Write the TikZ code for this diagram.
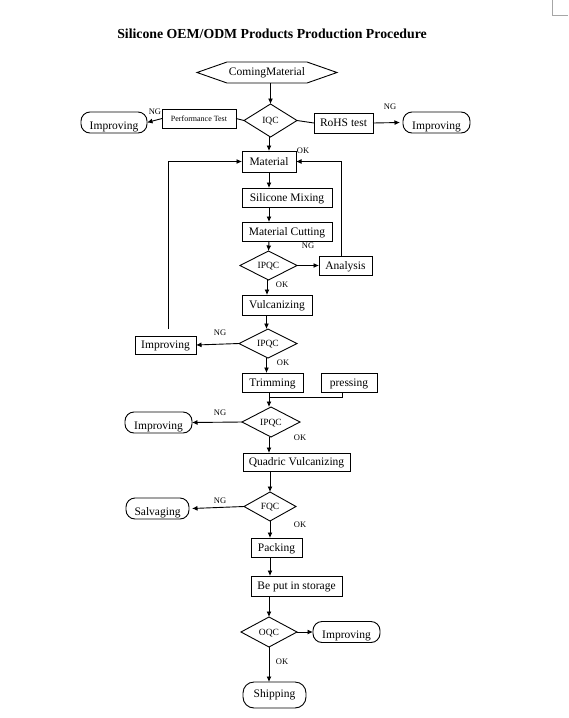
\documentclass[tikz,border=0pt]{standalone}
\usepackage{fontspec}
\setmainfont{Liberation Serif}
\usetikzlibrary{shapes.geometric,arrows.meta}
\begin{document}
\begin{tikzpicture}[x=1pt,y=-1pt,
  every node/.style={inner sep=0pt,outer sep=0pt},
  base/.style={font=\fontsize{11.5}{12}\selectfont},
  box/.style={base,draw,line width=0.9pt,rectangle,text height=8pt,text depth=1pt},
  rbox/.style={base,draw,line width=0.9pt,rounded corners=9pt,text height=13.5pt,text depth=0pt},
  dia/.style={draw,line width=0.9pt,diamond,font=\fontsize{9.5}{10}\selectfont,text height=6pt,text depth=-2pt},
  lbl/.style={font=\fontsize{8.5}{9}\selectfont},
  conn/.style={line width=0.9pt},
  arr/.style={line width=0.9pt,-{Latex[length=5.5pt,width=5pt]}}]
\useasboundingbox (0,0) rectangle (568,718);
\fill[white] (0,0) rectangle (568,718);
% corner mark
\draw[gray!70,line width=0.8pt] (552,0) -- (552,15) -- (568,15);
% title
\node[font=\bfseries\fontsize{13.8}{15}\selectfont] (title) at (272,34) {Silicone OEM/ODM Products Production Procedure};
% nodes
\node[base,minimum width=140pt,minimum height=21pt] (coming) at (267,72.5) {ComingMaterial};
\draw[line width=0.9pt] (coming.west) -- ([xshift=30pt]coming.north west) -- ([xshift=-30pt]coming.north east) -- (coming.east) -- ([xshift=-30pt]coming.south east) -- ([xshift=30pt]coming.south west) -- cycle;
\node[dia,minimum width=53pt,minimum height=33pt] (iqc) at (270.5,120.5) {IQC};
\node[draw,line width=0.9pt,font=\fontsize{8}{9}\selectfont,minimum width=74pt,minimum height=19pt] (perf) at (199,118.5) {Performance Test};
\node[rbox,minimum width=66pt,minimum height=21pt] (imp1) at (114,122.5) {Improving};
\node[box,minimum width=59pt,minimum height=20pt] (rohs) at (343.5,123) {RoHS test};
\node[rbox,minimum width=67pt,minimum height=21pt] (imp2) at (436.5,122.5) {Improving};
\node[box,minimum width=54pt,minimum height=21pt] (mat) at (269,161.5) {Material};
\node[box,minimum width=90pt,minimum height=19pt] (mix) at (287,197.5) {Silicone Mixing};
\node[box,minimum width=90pt,minimum height=19pt] (cut) at (287,231.5) {Material Cutting};
\node[dia,minimum width=57pt,minimum height=29pt] (ipqc1) at (268.5,265.5) {IPQC};
\node[box,minimum width=53pt,minimum height=19pt] (anal) at (345.5,265.5) {Analysis};
\node[box,minimum width=70pt,minimum height=20pt] (vulc) at (277,305) {Vulcanizing};
\node[dia,minimum width=58pt,minimum height=29pt] (ipqc2) at (268,343.5) {IPQC};
\node[box,minimum width=61pt,minimum height=18pt] (imp3) at (165.5,345) {Improving};
\node[box,minimum width=61pt,minimum height=19pt] (trim) at (272.5,382.5) {Trimming};
\node[box,minimum width=56pt,minimum height=19pt] (press) at (349,382.5) {pressing};
\coordinate (mrg) at (269,397);
\node[dia,minimum width=58pt,minimum height=30pt] (ipqc3) at (271,422) {IPQC};
\node[rbox,minimum width=67pt,minimum height=21pt] (imp4) at (158.5,422.5) {Improving};
\node[box,minimum width=107pt,minimum height=18pt] (quad) at (296.5,462) {Quadric Vulcanizing};
\node[dia,minimum width=52pt,minimum height=29pt] (fqc) at (270,506.5) {FQC};
\node[rbox,minimum width=63pt,minimum height=21pt] (salv) at (157.5,508.5) {Salvaging};
\node[box,minimum width=51pt,minimum height=19pt] (pack) at (276.5,547.5) {Packing};
\node[box,minimum width=91pt,minimum height=20pt] (stor) at (296.5,586) {Be put in storage};
\node[dia,minimum width=56pt,minimum height=30pt] (oqc) at (269,632) {OQC};
\node[rbox,minimum width=67pt,minimum height=21pt] (imp5) at (346.5,632) {Improving};
\node[base,draw,line width=0.9pt,rounded corners=11pt,minimum width=63pt,minimum height=26pt] (ship) at (274.5,695) {Shipping};
% connectors
\draw[arr] (coming.south -| iqc.north) -- (iqc.north);
\draw[conn] (iqc.west) -- (perf.east);
\draw[arr] (perf.west) -- (imp1.east);
\draw[conn] (iqc.east) -- (rohs.west);
\draw[arr] (rohs.east) -- ([xshift=-3pt]imp2.west);
\draw[arr] (iqc.south -| mat.north) -- (mat.north);
\draw[arr] (mat.south) -- (mat.south |- mix.north);
\draw[arr] (mat.south |- mix.south) -- (mat.south |- cut.north);
\draw[arr] (mat.south |- cut.south) -- (ipqc1.north);
\draw[arr] (ipqc1.east) -- (anal.west);
\draw[arr] ([xshift=-4.5pt]anal.north) |- (mat.east);
\draw[arr] ([xshift=-1.5pt]ipqc1.south) -- ([xshift=-1.5pt]ipqc1.south |- vulc.north);
\draw[arr] ([xshift=-1.5pt]ipqc2.north |- vulc.south) -- ([xshift=-1.5pt]ipqc2.north);
\draw[arr] (ipqc2.west) -- (imp3.east);
\draw[arr] ([xshift=2.5pt,yshift=7pt]imp3.north) |- (mat.west);
\draw[arr] ([xshift=-1.5pt]ipqc2.south) -- ([xshift=-1.5pt]ipqc2.south |- trim.north);
\draw[conn] (trim.south -| mrg) -- (mrg);
\draw[conn] ([xshift=-7pt]press.south) |- (mrg);
\draw[arr] (mrg) -- (mrg |- ipqc3.north);
\draw[arr] (ipqc3.west) -- (imp4.east);
\draw[arr] (mrg |- ipqc3.south) -- (mrg |- quad.north);
\draw[arr] (fqc.north |- quad.south) -- (fqc.north);
\draw[arr] (fqc.west) -- ([xshift=3pt]salv.east);
\draw[arr] (fqc.south) -- (fqc.south |- pack.north);
\draw[arr] (fqc.south |- pack.south) -- (fqc.south |- stor.north);
\draw[arr] (oqc.north |- stor.south) -- (oqc.north);
\draw[arr] (oqc.east) -- (imp5.west);
\draw[arr] (oqc.south) -- (oqc.south |- ship.north);
% labels
\node[lbl] (ng1) at (155,112) {NG};
\node[lbl] (ng2) at (390,107) {NG};
\node[lbl] (ok1) at (303,151) {OK};
\node[lbl] (ng3) at (308,246) {NG};
\node[lbl] (ok2) at (282,285) {OK};
\node[lbl] (ng4) at (220,333) {NG};
\node[lbl] (ok3) at (283,363) {OK};
\node[lbl] (ng5) at (220,413) {NG};
\node[lbl] (ok4) at (300,438) {OK};
\node[lbl] (ng6) at (220,501) {NG};
\node[lbl] (ok5) at (300,525) {OK};
\node[lbl] (ok6) at (282,662) {OK};
\end{tikzpicture}
\end{document}
